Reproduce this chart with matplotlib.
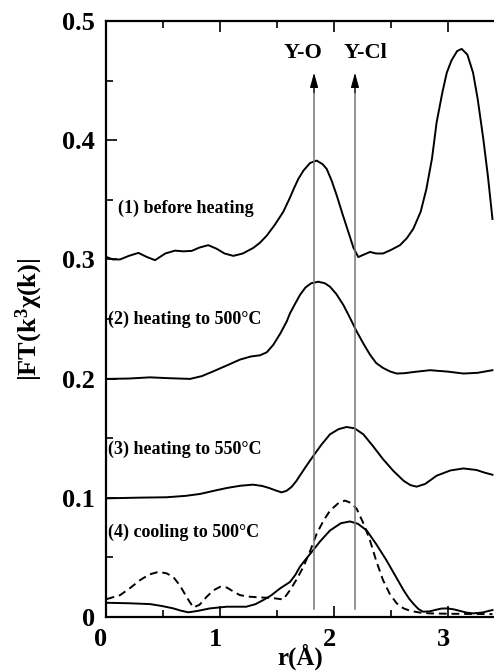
import matplotlib
matplotlib.use("Agg")
import matplotlib.pyplot as plt
import matplotlib.transforms as mtransforms
from matplotlib.ticker import MultipleLocator

plt.rcParams['font.family'] = ['Liberation Serif', 'DejaVu Serif']
plt.rcParams['font.weight'] = 'bold'
plt.rcParams['mathtext.fontset'] = 'custom'
plt.rcParams['mathtext.rm'] = 'Liberation Serif:bold'
plt.rcParams['mathtext.it'] = 'Liberation Serif:bold'
plt.rcParams['mathtext.bf'] = 'Liberation Serif:bold'

# (1) before heating
r1 = [0.006, 0.06, 0.123, 0.2, 0.284, 0.36, 0.43, 0.52, 0.605, 0.68, 0.752, 0.82, 0.897, 0.97,
      1.04, 1.117, 1.2, 1.292, 1.35, 1.41, 1.48, 1.555, 1.614, 1.65, 1.687, 1.731, 1.79, 1.848,
      1.90, 1.936, 1.98, 2.024, 2.075, 2.126, 2.17, 2.213, 2.26, 2.316, 2.37, 2.43, 2.50, 2.579,
      2.64, 2.696, 2.76, 2.81, 2.86, 2.90, 2.95, 2.989, 3.03, 3.08, 3.12, 3.17, 3.22, 3.26, 3.31,
      3.35, 3.39]
f1 = [0.302, 0.300, 0.300, 0.303, 0.3055, 0.302, 0.2994, 0.305, 0.3074, 0.3068, 0.3072, 0.310, 0.312, 0.309,
      0.305, 0.303, 0.305, 0.3097, 0.314, 0.320, 0.329, 0.340, 0.352, 0.360, 0.3676, 0.3745, 0.381, 0.383,
      0.380, 0.376, 0.366, 0.3537, 0.338, 0.323, 0.310, 0.302, 0.304, 0.3063, 0.305, 0.305, 0.308, 0.312,
      0.318, 0.3258, 0.340, 0.359, 0.385, 0.415, 0.440, 0.4567, 0.467, 0.475, 0.4768, 0.472, 0.4567, 0.435, 0.401,
      0.370, 0.334]

# (2) heating to 500 C
r2 = [0.006, 0.2, 0.386, 0.55, 0.737, 0.84, 0.94, 1.06, 1.175, 1.27, 1.35, 1.41, 1.468, 1.53,
      1.585, 1.614, 1.66, 1.70, 1.75, 1.80, 1.862, 1.92, 1.965, 2.02, 2.082, 2.14, 2.199, 2.26,
      2.316, 2.37, 2.43, 2.49, 2.55, 2.62, 2.70, 2.842, 3.00, 3.135, 3.26, 3.39]
f2 = [0.1997, 0.200, 0.201, 0.2003, 0.1997, 0.202, 0.206, 0.211, 0.2159, 0.2185, 0.2195, 0.222, 0.2284, 0.238,
      0.2479, 0.2548, 0.263, 0.270, 0.2765, 0.2800, 0.2813, 0.2800, 0.2771, 0.271, 0.2618, 0.251, 0.2395, 0.229,
      0.220, 0.213, 0.2089, 0.206, 0.2042, 0.2045, 0.2055, 0.207, 0.2058, 0.2042, 0.2048, 0.207]

# (3) heating to 550 C
r3 = [0.006, 0.3, 0.53, 0.7, 0.825, 0.95, 1.06, 1.18, 1.29, 1.37, 1.43, 1.49, 1.54, 1.585,
      1.63, 1.67, 1.70, 1.76, 1.819, 1.89, 1.965, 2.04, 2.11, 2.18, 2.257, 2.34, 2.43, 2.52,
      2.61, 2.67, 2.725, 2.80, 2.90, 3.02, 3.135, 3.25, 3.32, 3.39]
f3 = [0.0994, 0.1000, 0.1003, 0.1015, 0.1031, 0.1058, 0.1081, 0.1100, 0.1109, 0.1098, 0.1081, 0.1060, 0.1044, 0.1058,
      0.1092, 0.1140, 0.1184, 0.1270, 0.1351, 0.1445, 0.1532, 0.1575, 0.1593, 0.1582, 0.1532, 0.1435, 0.1323, 0.1225,
      0.1142, 0.1105, 0.1092, 0.1115, 0.1184, 0.1228, 0.1245, 0.1232, 0.1210, 0.1192]

# (4) cooling to 500 C, solid
r4 = [0.006, 0.2, 0.386, 0.49, 0.59, 0.66, 0.722, 0.80, 0.912, 1.06, 1.23, 1.31, 1.38, 1.45,
      1.526, 1.614, 1.66, 1.70, 1.75, 1.804, 1.88, 1.965, 2.06, 2.14, 2.21, 2.287, 2.37, 2.46,
      2.54, 2.61, 2.66, 2.70, 2.74, 2.78, 2.84, 2.88, 2.94, 2.989, 3.05, 3.10, 3.16, 3.22, 3.30, 3.39]
f4 = [0.0117, 0.0113, 0.0106, 0.0090, 0.0070, 0.0050, 0.0037, 0.0048, 0.0070, 0.0084, 0.0084, 0.0105, 0.0140, 0.0180,
      0.0237, 0.0292, 0.0350, 0.0418, 0.0480, 0.0543, 0.0635, 0.0724, 0.0785, 0.0800, 0.0780, 0.0724, 0.0610, 0.0474,
      0.0340, 0.0223, 0.0150, 0.0105, 0.0065, 0.0042, 0.0045, 0.0055, 0.0068, 0.0070, 0.0062, 0.0050, 0.0035, 0.0028, 0.0035, 0.0056]

# (4) dashed
r5 = [0.006, 0.123, 0.21, 0.298, 0.38, 0.459, 0.53, 0.59, 0.65, 0.71, 0.766, 0.82, 0.883, 0.94,
      1.0, 1.06, 1.12, 1.175, 1.26, 1.35, 1.45, 1.555, 1.614, 1.67, 1.731, 1.79, 1.848, 1.91,
      1.965, 2.04, 2.096, 2.15, 2.199, 2.26, 2.316, 2.37, 2.43, 2.49, 2.55, 2.61, 2.667, 2.75,
      2.84, 3.0, 3.2, 3.39]
f5 = [0.0148, 0.0181, 0.0240, 0.0307, 0.0355, 0.0376, 0.0365, 0.0334, 0.0260, 0.0160, 0.0078, 0.0100, 0.0167, 0.0220,
      0.0251, 0.0245, 0.0210, 0.0181, 0.0168, 0.0162, 0.0158, 0.0145, 0.0223, 0.0310, 0.0418, 0.0550, 0.0697, 0.0810,
      0.0891, 0.0955, 0.0975, 0.0955, 0.0906, 0.0780, 0.0640, 0.0470, 0.0307, 0.0190, 0.0112, 0.0070, 0.0050, 0.0035,
      0.0028, 0.0025, 0.0023, 0.0022]

labels = ['(1) before heating', '(2) heating to 500°C', '(3) heating to 550°C', '(4) cooling to 500°C']
label_pos = [(0.108, 0.3425), (0.02, 0.2493), (0.02, 0.1407), (0.02, 0.0705)]
arrow_x = [1.825, 2.184]
arrow_names = ['Y-O', 'Y-Cl']
arrow_label_x = [1.724, 2.279]

fig = plt.figure(figsize=(4.94, 6.71), dpi=100)
ax = fig.add_axes([0.2146, 0.0809, 0.7854, 0.8874])

lw = 1.4
ax.plot(r1, f1, color='black', lw=lw)
ax.plot(r2, f2, color='black', lw=lw)
ax.plot(r3, f3, color='black', lw=lw)
ax.plot(r4, f4, color='black', lw=lw)
ax.plot(r5, f5, color='black', lw=lw, ls=(0, (4, 2.5)))

for (x0, y0), t in zip(label_pos, labels):
    ax.text(x0, y0, t, fontsize=13, fontweight='bold', ha='left', va='center')

for xa, name, xl in zip(arrow_x, arrow_names, arrow_label_x):
    ax.plot([xa, xa], [0.0062, 0.445], color='#777777', lw=1.1)
    ax.annotate('', xy=(xa, 0.4567), xytext=(xa, 0.440),
                arrowprops=dict(arrowstyle='-|>,head_length=0.9,head_width=0.25',
                                color='black', lw=0.8, shrinkA=0, shrinkB=0))
    ax.text(xl, 0.4734, name, fontsize=16, fontweight='bold', ha='center', va='center')

ax.set_xlim(0, 3.4035)
ax.set_ylim(0, 0.5)
ax.xaxis.set_minor_locator(MultipleLocator(0.5))
ax.yaxis.set_minor_locator(MultipleLocator(0.05))
ax.set_xticks([0, 1, 2, 3])
ax.set_xticklabels(['0', '1', '2', '3'])
ax.set_yticks([0, 0.1, 0.2, 0.3, 0.4, 0.5])
ax.set_yticklabels(['0', '0.1', '0.2', '0.3', '0.4', '0.5'])

ax.tick_params(which='both', direction='in', top=True, right=False, width=1.2)
ax.tick_params(which='major', length=8, labelsize=19, pad=8)
ax.tick_params(which='minor', length=5)
ax.spines['right'].set_visible(False)
for s in ['left', 'top', 'bottom']:
    ax.spines[s].set_linewidth(1.6)

offset = mtransforms.ScaledTranslation(-5 / 100, 0, fig.dpi_scale_trans)
for lab in ax.get_xticklabels():
    lab.set_transform(lab.get_transform() + offset)
    lab.set_fontweight('bold')
for lab in ax.get_yticklabels():
    lab.set_fontweight('bold')

ax.set_xlabel('r(Å)', fontsize=18, fontweight='bold', labelpad=-5)
ax.set_ylabel(r'$\mathrm{|FT(k^3\chi(k)|}$', fontsize=19, labelpad=12)

fig.savefig('out.png', dpi=100)
